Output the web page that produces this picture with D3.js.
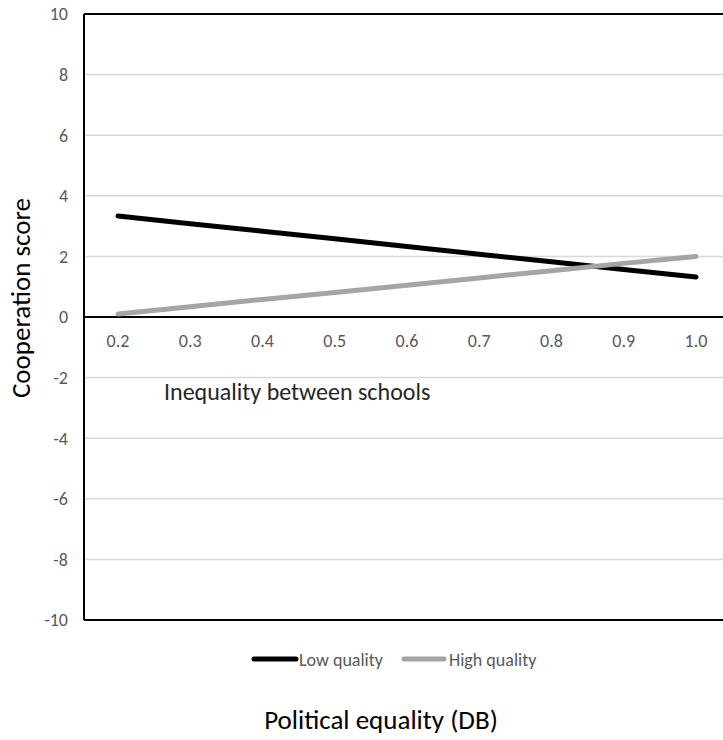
<!DOCTYPE html>
<html><head><meta charset="utf-8">
<script src="https://cdn.jsdelivr.net/npm/d3@7"></script>
<style>body{margin:0;background:#fff}svg{display:block}</style>
</head><body>
<script>
const categories = ["0.2","0.3","0.4","0.5","0.6","0.7","0.8","0.9","1.0"];
const lowQuality = [3.33,3.08,2.83,2.58,2.33,2.07,1.82,1.57,1.32];
const highQuality = [0.1,0.34,0.58,0.81,1.05,1.29,1.53,1.77,2.0];
const yTicks = [-10,-8,-6,-4,-2,0,2,4,6,8,10];
const seriesNames = ["Low quality","High quality"];

(function(){
const W=723,H=740;
const font="Carlito, Calibri, Lato, 'Open Sans', sans-serif";
const svg=d3.select("body").append("svg").attr("width",W).attr("height",H);
const pL=84,pR=732,pT=14,pB=620;
const x=d3.scalePoint().domain(categories).range([118,696]);
const y=d3.scaleLinear().domain([-10,10]).range([pB,pT]);

// gridlines
svg.append("g").selectAll("line").data(yTicks.filter(d=>d!==0&&d!==10&&d!==-10)).join("line")
  .attr("x1",pL).attr("x2",pR).attr("y1",d=>y(d)).attr("y2",d=>y(d))
  .attr("stroke","#d9d9d9").attr("stroke-width",1.5);

// frame
svg.append("line").attr("x1",pL).attr("x2",pR).attr("y1",pT).attr("y2",pT).attr("stroke","#000").attr("stroke-width",2);
svg.append("line").attr("x1",pL).attr("x2",pR).attr("y1",pB).attr("y2",pB).attr("stroke","#000").attr("stroke-width",2);
svg.append("line").attr("x1",pL).attr("x2",pL).attr("y1",pT).attr("y2",pB).attr("stroke","#000").attr("stroke-width",2);
svg.append("line").attr("x1",pL).attr("x2",pR).attr("y1",y(0)).attr("y2",y(0)).attr("stroke","#000").attr("stroke-width",2);

// y tick labels
svg.append("g").selectAll("text").data(yTicks).join("text")
  .attr("x",68).attr("y",d=>y(d)).attr("dy","0.35em").attr("text-anchor","end")
  .attr("font-family",font).attr("font-size",18).attr("fill","#595959").text(d=>d);

// x tick labels
svg.append("g").selectAll("text").data(categories).join("text")
  .attr("x",d=>x(d)).attr("y",y(0)+24).attr("dy","0.35em").attr("text-anchor","middle")
  .attr("font-family",font).attr("font-size",18).attr("fill","#595959").text(d=>d);

const line=d3.line().x((d,i)=>x(categories[i])).y(d=>y(d));
const colors=["#000000","#a5a5a5"];
[lowQuality,highQuality].forEach((s,k)=>{
  svg.append("path").attr("d",line(s)).attr("fill","none").attr("stroke",colors[k])
    .attr("stroke-width",5).attr("stroke-linecap","round").attr("stroke-linejoin","round");
});

// annotation
svg.append("text").attr("x",164).attr("y",392).attr("dy","0.35em")
  .attr("font-family",font).attr("font-size",24).attr("fill","#262626").text("Inequality between schools");

// axis titles
svg.append("text").attr("transform","translate(30,298) rotate(-90)").attr("text-anchor","middle")
  .attr("font-family",font).attr("font-size",27).attr("fill","#000").text("Cooperation score");
svg.append("text").attr("x",381).attr("y",729).attr("text-anchor","middle")
  .attr("font-family",font).attr("font-size",27).attr("fill","#000").text("Political equality (DB)");

// legend
const lg=[{x1:254,x2:296,tx:299},{x1:404,x2:444,tx:449}];
lg.forEach((l,k)=>{
  svg.append("line").attr("x1",l.x1).attr("x2",l.x2).attr("y1",659).attr("y2",659)
    .attr("stroke",colors[k]).attr("stroke-width",5).attr("stroke-linecap","round");
  svg.append("text").attr("x",l.tx).attr("y",660).attr("dy","0.35em")
    .attr("font-family",font).attr("font-size",18).attr("fill","#595959").text(seriesNames[k]);
});
})();
</script>
</body></html>
